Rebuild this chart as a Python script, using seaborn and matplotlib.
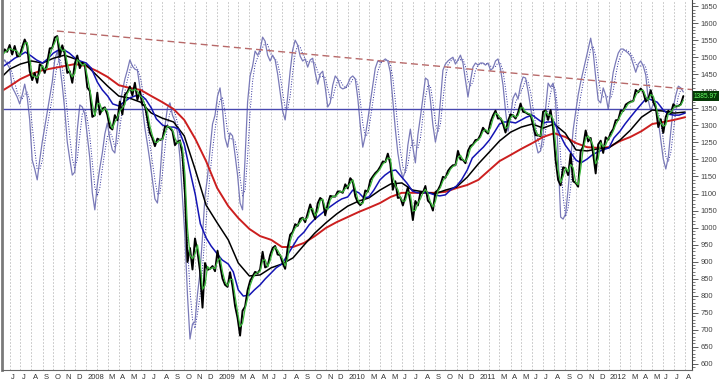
import numpy as np
import pandas as pd
import matplotlib
matplotlib.use('Agg')
import matplotlib.pyplot as plt
import matplotlib.dates as mdates
import matplotlib.transforms as mtransforms
from matplotlib.ticker import MultipleLocator, FixedLocator
import seaborn as sns

# weekly closes (Fridays), starting 2007-05-11
close = [
    1505, 1523, 1516, 1536, 1508, 1533, 1503, 1503, 1530, 1552, 1534, 1459, 1433, 1454, 1425, 1479, 1474,
    1454, 1484, 1526, 1527, 1558, 1562, 1501, 1535, 1510, 1454, 1459, 1425, 1481, 1505, 1468, 1484, 1478,
    # 2008
    1411, 1401, 1325, 1330, 1396, 1332, 1349, 1353, 1331, 1294, 1288, 1330, 1315, 1370, 1332, 1390, 1398,
    1414, 1388, 1425, 1375, 1400, 1360, 1360, 1318, 1278, 1262, 1239, 1261, 1257, 1260, 1296, 1298, 1292,
    1283, 1242, 1252, 1255, 1213, 1099, 899, 940, 877, 968, 930, 873, 765, 896, 876, 879, 887, 872,
    # 2009
    932, 890, 850, 832, 826, 869, 827, 770, 735, 683, 756, 768, 816, 843, 857, 870, 866, 877, 929, 883,
    887, 919, 940, 946, 921, 919, 896, 879, 941, 979, 987, 1010, 1005, 1026, 1029, 1016, 1042, 1068, 1044,
    1025, 1071, 1087, 1080, 1036, 1069, 1093, 1091, 1091, 1106, 1106, 1102, 1127, 1115,
    # 2010
    1145, 1136, 1092, 1074, 1066, 1075, 1109, 1105, 1139, 1150, 1160, 1167, 1179, 1194, 1192, 1217, 1187,
    1111, 1136, 1087, 1089, 1065, 1092, 1118, 1076, 1022, 1078, 1065, 1102, 1102, 1122, 1079, 1071, 1050,
    1104, 1110, 1125, 1149, 1146, 1166, 1176, 1183, 1183, 1225, 1200, 1199, 1189, 1225, 1240, 1244, 1257, 1258,
    # 2011
    1272, 1293, 1283, 1276, 1310, 1329, 1343, 1320, 1321, 1304, 1279, 1313, 1332, 1329, 1320, 1337, 1364,
    1340, 1338, 1333, 1331, 1300, 1271, 1271, 1268, 1340, 1344, 1316, 1345, 1292, 1199, 1140, 1124, 1177,
    1174, 1154, 1216, 1136, 1131, 1120, 1224, 1238, 1285, 1253, 1263, 1216, 1159, 1244, 1255, 1219, 1265, 1258,
    # 2012
    1278, 1289, 1315, 1316, 1344, 1342, 1361, 1366, 1370, 1371, 1404, 1397, 1408, 1398, 1370, 1378, 1403,
    1369, 1353, 1295, 1318, 1278, 1325, 1343, 1335, 1362, 1355, 1357, 1362, 1385.97,
]

# oscillator, weekly, drawn on the price scale
osc = [
    1486, 1492, 1480, 1468, 1412, 1398, 1383, 1363, 1389, 1421,
    1383, 1316, 1198, 1172, 1140, 1198, 1251, 1295, 1339, 1383,
    1427, 1492, 1518, 1477, 1418, 1345, 1251, 1201, 1154, 1163,
    1286, 1360, 1354, 1333, 1269, 1204, 1102, 1052, 1125, 1175,
    1219, 1275, 1307, 1260, 1228, 1219, 1295, 1357, 1401, 1436,
    1462, 1492, 1474, 1465, 1462, 1412, 1354, 1292, 1245, 1195,
    1140, 1084, 1072, 1146, 1254, 1298, 1351, 1366, 1330, 1313,
    1280, 1204, 1087, 970, 802, 673, 717, 723, 805, 867,
    975, 1093, 1148, 1228, 1304, 1330, 1386, 1410, 1345, 1263,
    1236, 1278, 1269, 1213, 1154, 1072, 1052, 1204, 1368, 1445,
    1474, 1518, 1506, 1521, 1559, 1547, 1506, 1489, 1506, 1492,
    1451, 1398, 1342, 1316, 1383, 1459, 1521, 1550, 1536, 1503,
    1489, 1495, 1471, 1492, 1497, 1454, 1421, 1451, 1459, 1412,
    1354, 1366, 1418, 1445, 1436, 1412, 1407, 1410, 1421, 1439,
    1445, 1436, 1380, 1301, 1236, 1269, 1316, 1368, 1418, 1468,
    1489, 1486, 1489, 1495, 1489, 1456, 1371, 1289, 1219, 1172,
    1146, 1166, 1242, 1289, 1236, 1190, 1272, 1324, 1380, 1439,
    1433, 1374, 1301, 1251, 1289, 1371, 1462, 1480, 1489, 1495,
    1500, 1480, 1492, 1506, 1483, 1433, 1383, 1430, 1471, 1483,
    1477, 1483, 1483, 1477, 1483, 1462, 1468, 1489, 1495, 1465,
    1418, 1342, 1283, 1327, 1380, 1395, 1377, 1418, 1442, 1439,
    1401, 1354, 1301, 1251, 1219, 1225, 1275, 1351, 1424, 1412,
    1424, 1371, 1213, 1031, 1025, 1040, 1113, 1201, 1286, 1339,
    1389, 1427, 1459, 1492, 1524, 1556, 1515, 1442, 1374, 1366,
    1410, 1389, 1348, 1401, 1456, 1486, 1512, 1524, 1524, 1518,
    1512, 1503, 1480, 1456, 1480, 1489, 1474, 1448, 1374, 1342,
    1363, 1351, 1313, 1257, 1201, 1172, 1207, 1283, 1354, 1389,
    1415, 1410, 1398,
]

# moving averages
blue_ma = [  # 1st and 15th of each month from 2007-05-01
    1456, 1474, 1486, 1497, 1506, 1515, 1503, 1492, 1483, 1495, 1512, 1521, 1521, 1512, 1497, 1489,
    1483, 1468, 1427, 1404, 1386, 1363, 1357, 1368, 1380, 1386, 1389, 1377,
    1351, 1319, 1301, 1295, 1295, 1289, 1245, 1175, 1096, 1011, 970, 946,
    923, 905, 893, 870, 817, 799, 802, 817, 832, 849, 867, 882,
    893, 917, 946, 970, 987, 1008, 1025, 1037, 1052, 1063, 1075, 1084,
    1090, 1110, 1102, 1087, 1090, 1110, 1140, 1154, 1166, 1169, 1148, 1131,
    1107, 1102, 1102, 1102, 1096, 1093, 1096, 1110, 1122, 1140, 1169, 1204,
    1222, 1236, 1257, 1280, 1304, 1310, 1310, 1307, 1316, 1324, 1330, 1319,
    1307, 1310, 1310, 1277, 1242, 1222, 1198, 1190, 1201, 1213, 1222, 1228,
    1234, 1263, 1283, 1304, 1324, 1342, 1363, 1380, 1374, 1368, 1345, 1333, 1330, 1330, 1336,
]
black_ma = [  # monthly from 2007-05-01
    1433, 1465, 1480, 1489, 1483, 1497, 1506, 1495,
    1477, 1445, 1415, 1386, 1380, 1368, 1336, 1321, 1310, 1269, 1169, 1066,
    1014, 964, 896, 858, 861, 882, 893, 911, 949, 984, 1014, 1040,
    1063, 1078, 1087, 1110, 1128, 1131, 1110, 1105, 1099, 1110, 1119, 1148,
    1187, 1222, 1254, 1280, 1295, 1304, 1292, 1304, 1277, 1228, 1225, 1231,
    1234, 1257, 1286, 1324, 1345, 1342, 1336, 1339,
]
red_ma = [  # monthly from 2007-05-01
    1395, 1415, 1436, 1451, 1462, 1468, 1474, 1480,
    1474, 1459, 1442, 1418, 1410, 1404, 1386, 1368, 1348, 1316, 1260, 1195,
    1116, 1063, 1028, 996, 975, 964, 943, 943, 955, 975, 999, 1016,
    1031, 1046, 1058, 1072, 1090, 1102, 1102, 1102, 1102, 1105, 1116, 1125,
    1140, 1169, 1195, 1213, 1231, 1248, 1266, 1277, 1266, 1248, 1236, 1234,
    1236, 1254, 1266, 1283, 1304, 1310, 1316, 1324,
]

trend_dates = ['2007-10-11', '2012-08-20']
trend_values = [1577, 1405]
level = 1349
last_close = 1385.97
month_letters = ['J', 'F', 'M', 'A', 'M', 'J', 'J', 'A', 'S', 'O', 'N', 'D']

weeks = pd.date_range('2007-05-11', periods=len(close), freq='W-FRI')
price = pd.DataFrame({'date': weeks, 'close': close})
price['fast'] = price['close'].rolling(2, min_periods=1).mean()
osc_df = pd.DataFrame({'date': pd.date_range('2007-05-11', periods=len(osc), freq='W-FRI'), 'osc': osc})
osc_df['signal'] = osc_df['osc'].rolling(3, min_periods=1).mean()
blue_df = pd.DataFrame({'date': pd.date_range('2007-05-01', periods=len(blue_ma), freq='SMS'), 'v': blue_ma})
black_df = pd.DataFrame({'date': pd.date_range('2007-05-01', periods=len(black_ma), freq='MS'), 'v': black_ma})
red_df = pd.DataFrame({'date': pd.date_range('2007-05-01', periods=len(red_ma), freq='MS'), 'v': red_ma})

sns.set_theme(style='white')
plt.rcParams['font.family'] = ['Liberation Sans', 'DejaVu Sans']

fig = plt.figure(figsize=(7.2, 3.85), dpi=100)
ax = fig.add_axes([0.003, 0.039, 0.958, 0.961])

sns.lineplot(x='date', y='signal', data=osc_df, ax=ax, color='#2a2a9a', linewidth=0.7, linestyle=':')
sns.lineplot(x='date', y='osc', data=osc_df, ax=ax, color='#7a7ab8', linewidth=0.9)
ax.axhline(level, color='#4848b0', linewidth=1.0)
ax.plot(pd.to_datetime(trend_dates), trend_values, color='#b86a6a', linewidth=1.0, linestyle=(0, (5, 3)))
sns.lineplot(x='date', y='v', data=red_df, ax=ax, color='#cc1f1f', linewidth=1.4)
sns.lineplot(x='date', y='v', data=black_df, ax=ax, color='#000000', linewidth=1.1)
sns.lineplot(x='date', y='v', data=blue_df, ax=ax, color='#1414b4', linewidth=1.1)
sns.lineplot(x='date', y='close', data=price, ax=ax, color='#000000', linewidth=1.4)
sns.lineplot(x='date', y='fast', data=price, ax=ax, color='#3cb83c', linewidth=0.9)

ax.set_xlim(pd.Timestamp('2007-05-11'), pd.Timestamp('2012-08-20'))
ax.set_ylim(582, 1668)
ax.set_xlabel('')
ax.set_ylabel('')

# right price axis
ax.yaxis.tick_right()
ax.yaxis.set_major_locator(MultipleLocator(50))
ax.yaxis.set_minor_locator(MultipleLocator(10))
ax.tick_params(axis='y', which='major', length=4, width=0.6, labelsize=5.5, colors='#444444', pad=2)
ax.tick_params(axis='y', which='minor', length=2, width=0.5, colors='#444444')

# month strip
months = pd.date_range('2007-06-01', '2012-08-01', freq='MS')
labels = []
for m in months:
    if m.month == 1:
        labels.append(str(m.year))
    elif m.month == 2:
        labels.append('')
    else:
        labels.append(month_letters[m.month - 1])
ax.xaxis.set_major_locator(FixedLocator(mdates.date2num(months)))
ax.set_xticklabels([])
ax.set_xticks(mdates.date2num(months + pd.Timedelta(days=3)), labels=labels, minor=True)
for t in ax.get_xticklabels(minor=True):
    t.set_ha('left')
ax.tick_params(axis='x', which='major', length=14, width=0.6, colors='#666666', direction='out')
ax.tick_params(axis='x', which='minor', length=0, labelsize=5.5, labelcolor='#333333', pad=3)
ax.grid(True, axis='x', which='major', color='#bdbdbd', linestyle=(0, (2, 2)), linewidth=0.6)

ax.spines['top'].set_visible(False)
ax.spines['left'].set_color('#7a7a7a')
ax.spines['left'].set_linewidth(2)
ax.spines['right'].set_color('#444444')
ax.spines['right'].set_linewidth(0.8)
ax.spines['bottom'].set_color('#666666')
ax.spines['bottom'].set_linewidth(0.8)

# last value tag, drawn over the 1400 label as in the source
tr = mtransforms.blended_transform_factory(ax.transAxes, ax.transData)
ax.text(1.003, last_close, f'{last_close:.2f}', transform=tr, ha='left', va='center', fontsize=4.8,
        color='#66ff66', bbox=dict(boxstyle='square,pad=0.2', fc='#063806', ec='none'),
        clip_on=False, zorder=10)

fig.savefig('out.png', dpi=100)
